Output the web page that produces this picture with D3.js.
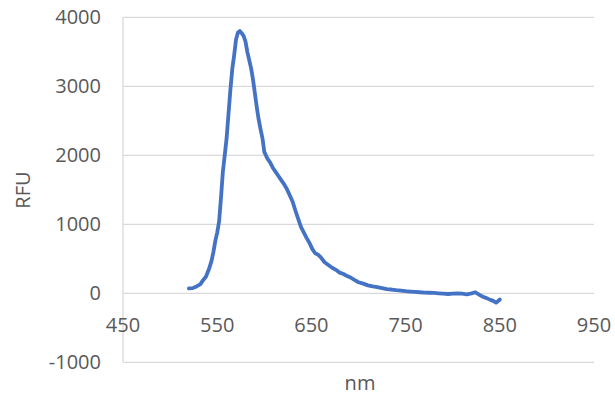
<!DOCTYPE html>
<html><head><meta charset="utf-8">
<script src="https://cdn.jsdelivr.net/npm/d3@7"></script>
<style>html,body{margin:0;padding:0;background:#fff;}svg{display:block;}</style>
</head><body>
<svg id="chart" width="615" height="398"></svg>
<script>
const wavelengths = [520,524,528,532,535,538,541,544,546,548,550,552,554,556,558,560,562,564,566,568,570,572,574,576,578,580,582,584,586,588,590,592,594,596,598,600,603,606,609,612,615,618,621,624,627,630,633,636,639,642,645,648,651,654,657,660,664,668,672,676,680,684,688,692,696,700,705,710,715,720,725,730,735,740,745,750,755,760,765,770,775,780,785,790,795,800,805,810,815,820,824,828,832,836,840,843,846,848,850];
const rfu = [70,75,100,130,190,240,340,470,600,760,880,1040,1380,1760,2000,2250,2600,2950,3250,3450,3680,3780,3800,3770,3730,3650,3500,3380,3260,3100,2900,2700,2520,2380,2250,2050,1960,1900,1820,1760,1700,1640,1580,1510,1420,1330,1200,1080,960,880,800,730,640,580,560,520,450,410,370,340,300,280,250,225,190,160,140,115,100,90,75,60,55,45,40,30,25,20,15,10,8,5,0,-5,-10,-5,0,-5,-15,0,15,-20,-50,-70,-95,-110,-135,-115,-90];
const xTicks = [450,550,650,750,850,950];
const yTicks = [-1000,0,1000,2000,3000,4000];
const xTitle = "nm", yTitle = "RFU";

const svg = d3.select("#chart");
const x = d3.scaleLinear().domain([450,950]).range([123,594]);
const y = d3.scaleLinear().domain([-1000,4000]).range([362.3,17.3]);
const font = "'Open Sans', sans-serif";

svg.append("g").selectAll("line").data(yTicks).join("line")
  .attr("x1", x(450)).attr("x2", x(950))
  .attr("y1", d => y(d)).attr("y2", d => y(d))
  .attr("stroke", "#d9d9d9").attr("stroke-width", 1.3);
svg.append("line").attr("x1", x(450)).attr("x2", x(450))
  .attr("y1", y(4000)).attr("y2", y(-1000))
  .attr("stroke", "#d9d9d9").attr("stroke-width", 1.3);

svg.append("g").selectAll("text").data(yTicks).join("text")
  .attr("x", 101).attr("y", d => y(d)).attr("dy", "0.35em")
  .attr("text-anchor", "end").attr("font-family", font).attr("font-size", 20)
  .attr("fill", "#595959").text(d => d);
svg.append("g").selectAll("text").data(xTicks).join("text")
  .attr("x", d => x(d)).attr("y", 325).attr("dy", "0.35em")
  .attr("text-anchor", "middle").attr("font-family", font).attr("font-size", 20)
  .attr("fill", "#595959").text(d => d);

svg.append("text").attr("transform", "translate(23,190) rotate(-90)")
  .attr("dy", "0.35em").attr("text-anchor", "middle")
  .attr("font-family", font).attr("font-size", 20).attr("fill", "#595959").text(yTitle);
svg.append("text").attr("x", 360).attr("y", 383).attr("dy", "0.35em")
  .attr("text-anchor", "middle")
  .attr("font-family", font).attr("font-size", 20).attr("fill", "#595959").text(xTitle);

const line = d3.line().x((d,i) => x(wavelengths[i])).y(d => y(d)).curve(d3.curveLinear);
svg.append("path").datum(rfu).attr("d", line)
  .attr("fill", "none").attr("stroke", "#4472C4").attr("stroke-width", 3.8)
  .attr("stroke-linejoin", "round").attr("stroke-linecap", "round");
</script>
</body></html>
